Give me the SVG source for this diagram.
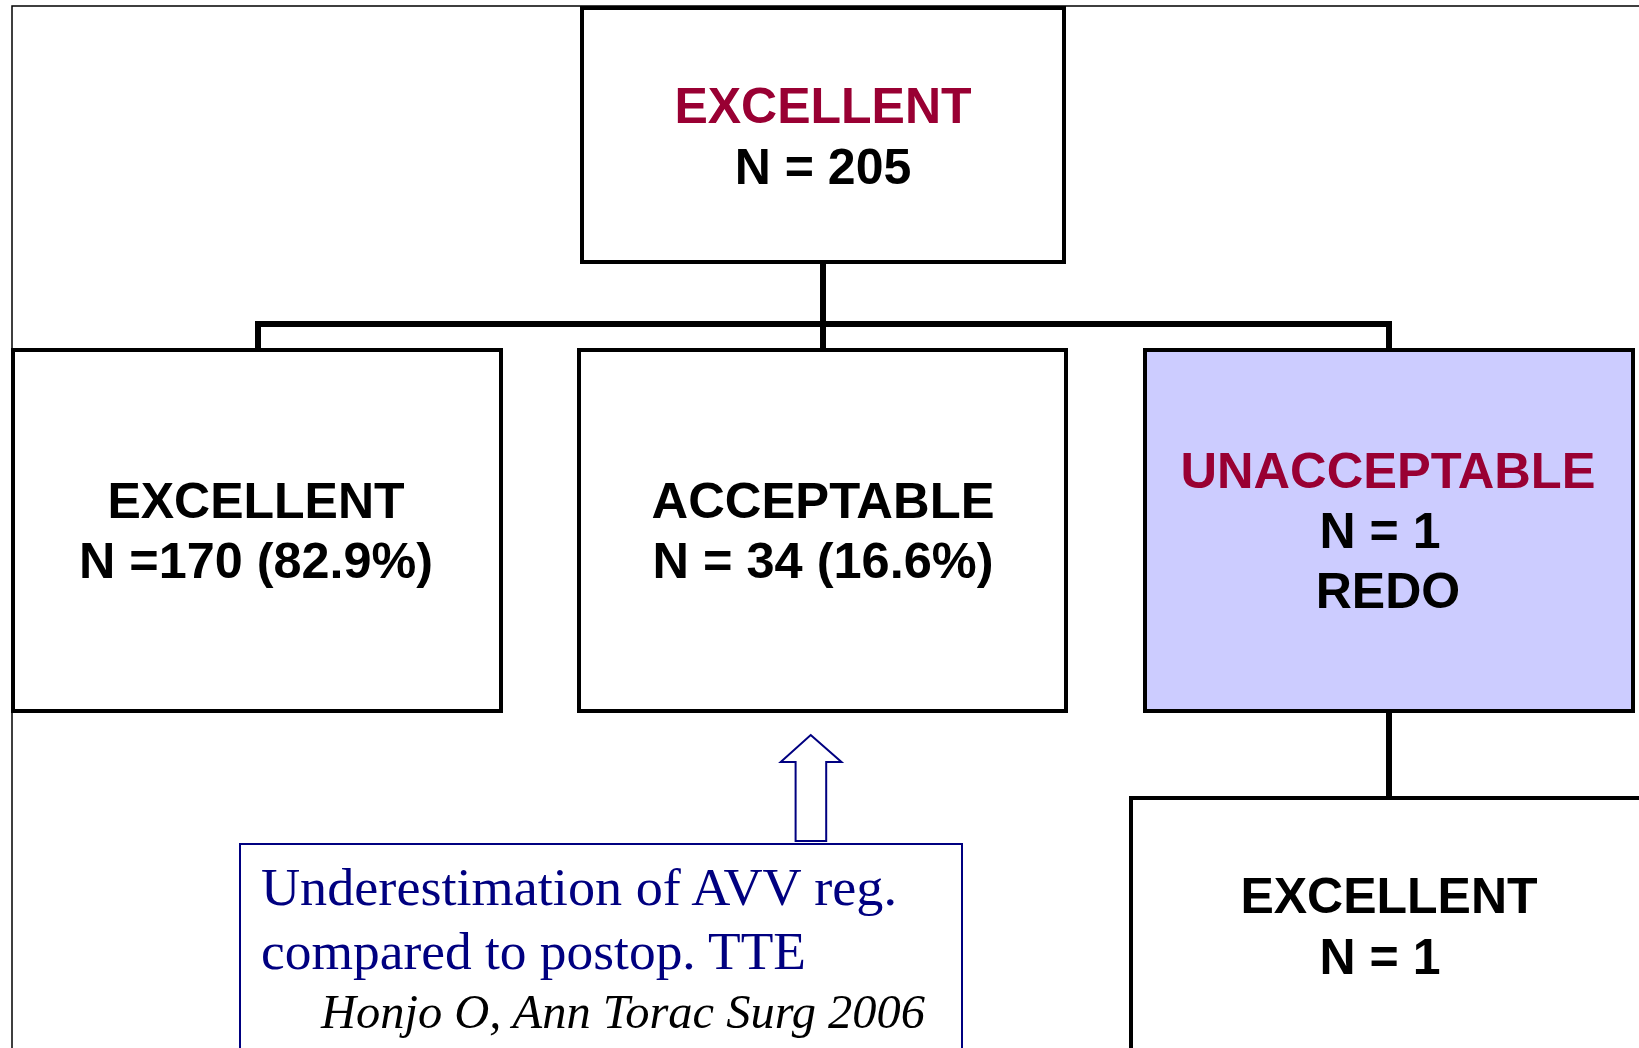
<svg xmlns="http://www.w3.org/2000/svg" width="1639" height="1048" viewBox="0 0 1639 1048">
<style>
.box{fill:#fff;stroke:#000;stroke-width:4}
.boxb{fill:#ccccff;stroke:#000;stroke-width:4}
.t{font-family:"Liberation Sans",Arial,sans-serif;font-weight:bold;font-size:50px;text-anchor:middle;fill:#000}
.r{fill:#990033}
.con{fill:none;stroke:#000;stroke-width:6}
.n{font-family:"Liberation Serif","Times New Roman",serif;font-size:52px;fill:#000080}
.i{font-family:"Liberation Serif","Times New Roman",serif;font-size:49px;font-style:italic;fill:#000}
</style>
<rect x="0" y="0" width="1639" height="1048" fill="#fff"/>
<path d="M12,1048 V6 H1639" fill="none" stroke="#000" stroke-width="1.5"/>
<g id="connectors">
<path class="con" d="M823,262 V324"/>
<path class="con" d="M255,324 H1392"/>
<path class="con" d="M258,324 V350"/>
<path class="con" d="M823,324 V350"/>
<path class="con" d="M1389,324 V350"/>
<path class="con" d="M1389,711 V798"/>
<path id="note-arrow" d="M810.7,735 L841.5,762 H826.2 V841 H795.6 V762 H780.7 Z" fill="#fff" stroke="#000080" stroke-width="2"/>
</g>
<g id="root">
<rect class="box" x="582" y="8" width="482" height="254"/>
<text class="t r" x="823" y="123">EXCELLENT</text>
<text class="t" x="823" y="184">N = 205</text>
</g>
<g id="excellent">
<rect class="box" x="13" y="350" width="488" height="361"/>
<text class="t" x="256" y="518">EXCELLENT</text>
<text class="t" x="256" y="578" textLength="354" lengthAdjust="spacingAndGlyphs">N =170 (82.9%)</text>
</g>
<g id="acceptable">
<rect class="box" x="579" y="350" width="487" height="361"/>
<text class="t" x="823" y="518" textLength="343" lengthAdjust="spacingAndGlyphs">ACCEPTABLE</text>
<text class="t" x="823" y="578" textLength="341" lengthAdjust="spacingAndGlyphs">N = 34 (16.6%)</text>
</g>
<g id="unacceptable">
<rect class="boxb" x="1145" y="350" width="488" height="361"/>
<text class="t r" x="1388" y="488" textLength="415" lengthAdjust="spacingAndGlyphs">UNACCEPTABLE</text>
<text class="t" x="1380" y="548">N = 1</text>
<text class="t" x="1388" y="608">REDO</text>
</g>
<g id="redo-result">
<rect class="box" x="1131" y="798" width="540" height="300"/>
<text class="t" x="1389" y="913">EXCELLENT</text>
<text class="t" x="1380" y="974">N = 1</text>
</g>
<g id="note">
<rect x="240" y="844" width="722" height="260" fill="#fff" stroke="#000080" stroke-width="2"/>
<text class="n" x="261" y="905" textLength="636" lengthAdjust="spacingAndGlyphs">Underestimation of AVV reg.</text>
<text class="n" x="261" y="969" textLength="545" lengthAdjust="spacingAndGlyphs">compared to postop. TTE</text>
<text class="i" x="321" y="1028" textLength="604" lengthAdjust="spacingAndGlyphs">Honjo O, Ann Torac Surg 2006</text>
</g>
</svg>
